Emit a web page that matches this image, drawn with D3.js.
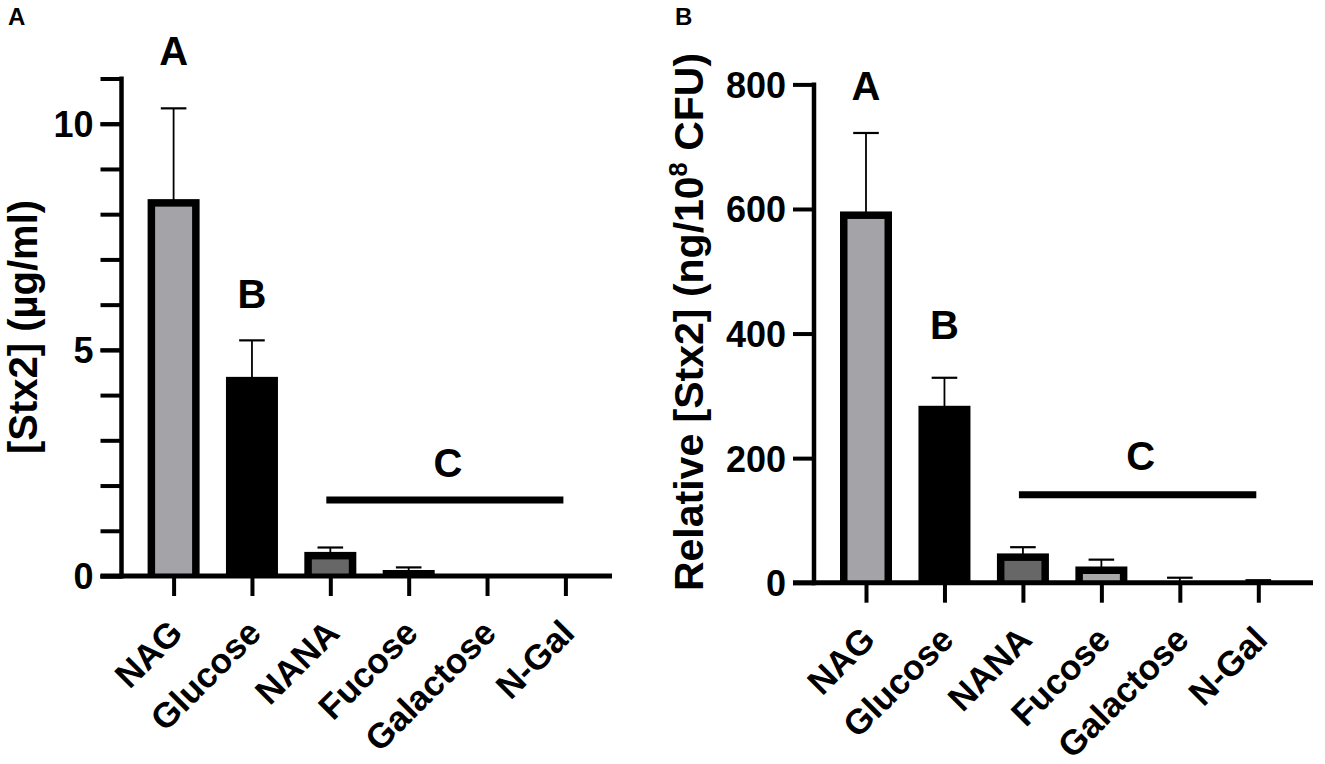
<!DOCTYPE html>
<html><head><meta charset="utf-8">
<script src="https://cdn.jsdelivr.net/npm/d3@7"></script>
<style>
html,body{margin:0;padding:0;background:#fff;}
text{font-family:"Liberation Sans",Arial,sans-serif;font-weight:bold;fill:#000;}
</style></head>
<body>
<svg id="chart" width="1325" height="764"></svg>
<script>
// ---- data ----
const categories = ["NAG", "Glucose", "NANA", "Fucose", "Galactose", "N-Gal"];
const stxMean = [8.25, 4.32, 0.45, 0.05, 0, 0];          // µg/ml
const stxSD   = [2.09, 0.89, 0.18, 0.14, 0, 0];
const relMean = [590, 278, 41, 20, 0, 0];                 // ng/10^8 CFU
const relSD   = [132, 51, 16, 17, 8, 4];
const barFills = ["#a3a3a8", "#000000", "#676767", "#a9a9a9", "#ffffff", "#ffffff"];
const stxTicks = [0, 5, 10];
const stxMinorTicks = [0,1,2,3,4,5,6,7,8,9,10,11];
const relTicks = [0, 200, 400, 600, 800];
// significance groups: letter, first category, last category, value level for letter
const stxGroups = [
  {letter: "A", from: "NAG", to: "NAG", textAt: 11.3, line: null},
  {letter: "B", from: "Glucose", to: "Glucose", textAt: 5.92, line: null},
  {letter: "C", from: "NANA", to: "N-Gal", textAt: 2.2, line: 1.68}
];
const relGroups = [
  {letter: "A", from: "NAG", to: "NAG", textAt: 775, line: null},
  {letter: "B", from: "Glucose", to: "Glucose", textAt: 391, line: null},
  {letter: "C", from: "NANA", to: "N-Gal", textAt: 181, line: 141}
];

const svg = d3.select("#chart");

function drawPanel(o) {
  const g = svg.append("g");
  const x = d3.scalePoint().domain(categories).range(o.xRange);
  const y = d3.scaleLinear().domain(o.yDomain).range(o.yRange);
  const bw = 52, sw = 7.5;
  const data = categories.map((c, i) => ({c, v: o.mean[i], sd: o.sd[i], fill: barFills[i]}));

  // bars: outer black frame + inner fill
  const bars = g.append("g");
  data.filter(d => d.v > 0).forEach(d => {
    const top = y(d.v) - sw / 2;
    bars.append("rect")
      .attr("x", x(d.c) - bw / 2).attr("width", bw)
      .attr("y", top).attr("height", y(0) - top)
      .attr("fill", "#000");
    const itop = y(d.v) + sw / 2;
    if (y(0) - itop > 0) {
      bars.append("rect")
        .attr("x", x(d.c) - bw / 2 + sw).attr("width", bw - 2 * sw)
        .attr("y", itop).attr("height", y(0) - itop)
        .attr("fill", d.fill);
    }
  });

  // error bars (upper only)
  const eb = g.append("g").attr("stroke", "#000");
  data.filter(d => d.sd > 0).forEach(d => {
    const yt = y(d.v + d.sd);
    eb.append("line").attr("x1", x(d.c)).attr("x2", x(d.c))
      .attr("y1", y(d.v)).attr("y2", yt).attr("stroke-width", 1.8);
    eb.append("line").attr("x1", x(d.c) - 12.8).attr("x2", x(d.c) + 12.8)
      .attr("y1", yt).attr("y2", yt).attr("stroke-width", 2.2);
  });

  // y axis
  const yAxis = d3.axisLeft(y).tickValues(o.yTicks).tickSize(21).tickPadding(7)
    .tickFormat(d3.format("d"));
  const ya = g.append("g").attr("transform", `translate(${o.yAxisX},0)`).call(yAxis);
  ya.select(".domain").remove();
  ya.selectAll(".tick line").attr("stroke", "#000").attr("stroke-width", 4);
  ya.selectAll(".tick text").attr("font-size", 36).attr("dy", "0.36em")
    .style("font-family", "'Liberation Sans', Arial, sans-serif").style("font-weight", "bold");
  if (o.minor) {
    const ma = d3.axisLeft(y).tickValues(o.minor).tickSize(21).tickFormat("");
    const mg = g.append("g").attr("transform", `translate(${o.yAxisX},0)`).call(ma);
    mg.select(".domain").remove();
    mg.selectAll(".tick line").attr("stroke", "#000").attr("stroke-width", 4);
  }
  g.append("line").attr("x1", o.yAxisX).attr("x2", o.yAxisX)
    .attr("y1", y(o.yDomain[1]) - 2).attr("y2", y(0) + 2.5)
    .attr("stroke", "#000").attr("stroke-width", 4.5);

  // x axis
  const xAxis = d3.axisBottom(x).tickSize(20).tickFormat("");
  const xa = g.append("g").attr("transform", `translate(0,${y(0)})`).call(xAxis);
  xa.select(".domain").remove();
  xa.selectAll(".tick line").attr("stroke", "#000").attr("stroke-width", 4);
  g.append("line").attr("x1", o.yAxisX - 21).attr("x2", o.xAxisEnd)
    .attr("y1", y(0)).attr("y2", y(0))
    .attr("stroke", "#000").attr("stroke-width", 5);

  // category labels
  categories.forEach(c => {
    g.append("text")
      .attr("transform", `translate(${x(c) + 11},${y(0) + 59}) rotate(-45)`)
      .attr("text-anchor", "end").attr("font-size", 35).text(c);
  });

  // y title
  const t = g.append("text")
    .attr("transform", `translate(${o.titleX},${o.titleY}) rotate(-90)`)
    .attr("text-anchor", "middle").attr("font-size", o.titleSize);
  o.title.forEach(p => {
    const ts = t.append("tspan").text(p.t);
    if (p.sup) ts.attr("font-size", o.titleSize * 0.62).attr("dy", -o.titleSize * 0.4);
    if (p.after) ts.attr("dy", o.titleSize * 0.4);
  });

  // significance letters
  o.groups.forEach(gr => {
    const cx = (x(gr.from) + x(gr.to)) / 2;
    g.append("text").attr("x", cx).attr("y", y(gr.textAt))
      .attr("text-anchor", "middle").attr("font-size", 40).text(gr.letter);
    if (gr.line !== null) {
      g.append("line").attr("x1", x(gr.from) - 4).attr("x2", x(gr.to) - 2)
        .attr("y1", y(gr.line)).attr("y2", y(gr.line))
        .attr("stroke", "#000").attr("stroke-width", 7);
    }
  });

  // panel letter
  svg.append("text").attr("x", o.panelX).attr("y", o.panelY)
    .attr("font-size", 24).text(o.panel);
}

drawPanel({
  panel: "A", panelX: 8, panelY: 25,
  xRange: [173.6, 565.4], yDomain: [0, 11], yRange: [576, 78.5],
  yAxisX: 121.5, xAxisEnd: 612,
  yTicks: stxTicks, minor: stxMinorTicks,
  mean: stxMean, sd: stxSD, groups: stxGroups,
  title: [{t: "[Stx2] (µg/ml)"}], titleX: 37, titleY: 327, titleSize: 40
});

drawPanel({
  panel: "B", panelX: 675, panelY: 25,
  xRange: [866, 1258.3], yDomain: [0, 800], yRange: [582.7, 84.4],
  yAxisX: 814, xAxisEnd: 1313,
  yTicks: relTicks, minor: null,
  mean: relMean, sd: relSD, groups: relGroups,
  title: [{t: "Relative [Stx2] (ng/10"}, {t: "8", sup: true}, {t: " CFU)", after: true}],
  titleX: 703, titleY: 322, titleSize: 41
});
</script>
</body></html>
